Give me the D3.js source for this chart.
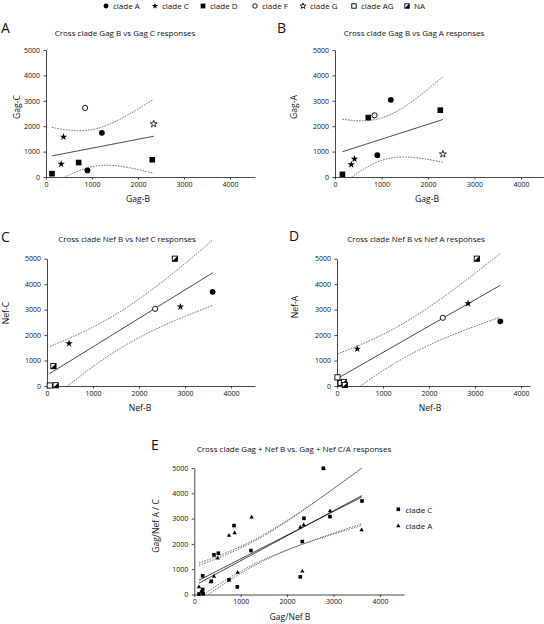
<!DOCTYPE html>
<html><head><meta charset="utf-8">
<script src="https://cdn.jsdelivr.net/npm/d3@7"></script>
<style>
body{margin:0;background:#fff}
svg{display:block}
text{font-family:"Open Sans",sans-serif;fill:#111}
</style>
</head><body>
<svg id="c" width="544" height="624"></svg>
<script>
// ---------- data ----------
const legendKeys = ["A","C","D","F","G","AG","NA"];
const legendLabels = ["clade A","clade C","clade D","clade F","clade G","clade AG","NA"];
const xTicks = [0,1000,2000,3000,4000];
const yTicks = [0,1000,2000,3000,4000,5000];

// Panel A: Gag-B vs Gag-C
const aX = [1215, 900, 380, 330, 130, 710, 2310, 850, 2340];
const aY = [1740, 260, 1580, 510, 130, 570, 680, 2720, 2090];
const aClade = ["A","A","C","C","D","D","D","F","G"];
// Panel B: Gag-B vs Gag-A
const bX = [1200, 910, 420, 350, 160, 715, 2265, 850, 2320];
const bY = [3040, 860, 710, 490, 105, 2340, 2630, 2430, 900];
const bClade = ["A","A","C","C","D","D","D","F","G"];
// Panel C: Nef-B vs Nef-C
const cX = [3600, 2900, 2350, 480, 2780, 140, 60, 190];
const cY = [3700, 3110, 3030, 1670, 5000, 780, 20, 30];
const cClade = ["A","C","F","C","NA","NA","AG","NA"];
// Panel D: Nef-B vs Nef-A
const dX = [3550, 2850, 2300, 440, 3040, 10, 80, 150, 170];
const dY = [2540, 3240, 2680, 1460, 5000, 340, 120, 160, 40];
const dClade = ["A","C","F","C","NA","AG","AG","NA","NA"];
// Panel E: combined Gag + Nef responses
const eCX = [1221, 927, 424, 366, 180, 747, 2284, 855, 2328, 3614, 2924, 2363, 517, 2780, 180, 100, 190];
const eCY = [1737, 303, 1566, 526, 197, 579, 697, 2724, 2092, 3697, 3079, 3013, 1632, 4987, 737, 20, 30];
const eAX = [1236, 934, 424, 350, 160, 747, 2284, 869, 2328, 3606, 2924, 2356, 503, 2790, 100, 150, 170, 190];
const eAY = [3053, 868, 710, 490, 105, 2329, 2658, 2434, 921, 2553, 3303, 2750, 1434, 4980, 300, 120, 160, 40];

const T975 = [NaN,12.706,4.303,3.182,2.776,2.571,2.447,2.365,2.306,2.262,2.228,2.201,2.179,2.160,2.145,2.131,2.120,2.110,2.101,2.093,2.086,2.080,2.074,2.069,2.064,2.060,2.056,2.052,2.048,2.045,2.042];

// ---------- helpers ----------
const svg = d3.select("#c");

function regress(xs, ys){
  const n = xs.length, mx = d3.mean(xs), my = d3.mean(ys);
  let sxx = 0, sxy = 0;
  xs.forEach((x,i)=>{ sxx += (x-mx)*(x-mx); sxy += (x-mx)*(ys[i]-my); });
  const b = sxy/sxx, a = my - b*mx;
  let ss = 0; xs.forEach((x,i)=>{ const r = ys[i]-a-b*x; ss += r*r; });
  const s = Math.sqrt(ss/(n-2)), t = T975[Math.min(n-2,30)];
  return {f:x=>a+b*x, hw:x=>t*s*Math.sqrt(1/n+(x-mx)*(x-mx)/sxx), lo:d3.min(xs), hi:d3.max(xs)};
}

function marker(g, key, cx, cy, s){
  s = s || 1;
  const m = g.append("g").attr("transform",`translate(${cx},${cy})`);
  const sym = (type,size)=>d3.symbol().type(type).size(size)();
  switch(key){
    case "A": m.append("circle").attr("r",2.9*s).attr("fill","#000"); break;
    case "C": m.append("path").attr("d",sym(d3.symbolStar,17*s*s)).attr("fill","#000"); break;
    case "D": m.append("rect").attr("x",-2.8*s).attr("y",-2.8*s).attr("width",5.6*s).attr("height",5.6*s).attr("fill","#000"); break;
    case "F": m.append("circle").attr("r",2.6*s).attr("fill","#fff").attr("stroke","#000").attr("stroke-width",0.9); break;
    case "G": m.append("path").attr("d",sym(d3.symbolStar,15*s*s)).attr("fill","#fff").attr("stroke","#000").attr("stroke-width",0.8); break;
    case "AG": m.append("rect").attr("x",-2.6*s).attr("y",-2.6*s).attr("width",5.2*s).attr("height",5.2*s).attr("fill","#fff").attr("stroke","#000").attr("stroke-width",0.9); break;
    case "NA":
      m.append("rect").attr("x",-2.6*s).attr("y",-2.6*s).attr("width",5.2*s).attr("height",5.2*s).attr("fill","#fff").attr("stroke","#000").attr("stroke-width",0.9);
      m.append("path").attr("d",`M${2.6*s},${-2.6*s}L${2.6*s},${2.6*s}L${-2.6*s},${2.6*s}Z`).attr("fill","#000");
      break;
    case "sq": m.append("rect").attr("x",-1.8).attr("y",-1.8).attr("width",3.6).attr("height",3.6).attr("fill","#000"); break;
    case "tri": m.append("path").attr("d",sym(d3.symbolTriangle,8)).attr("fill","#000"); break;
  }
}

let clipN = 0;
function panel(cfg){
  const g = svg.append("g");
  const xMax = (cfg.xEnd-cfg.x0)/cfg.kx*1000;
  const x = d3.scaleLinear().domain([0,xMax]).range([cfg.x0,cfg.xEnd]);
  const y = d3.scaleLinear().domain([0,5000]).range([cfg.y0,cfg.yTop]);
  const fmt = d3.format("d");

  const xa = g.append("g").attr("transform",`translate(0,${cfg.y0})`)
    .call(d3.axisBottom(x).tickValues(xTicks).tickFormat(fmt).tickSize(2.5).tickSizeOuter(0).tickPadding(2.5));
  const ya = g.append("g").attr("transform",`translate(${cfg.x0},0)`)
    .call(d3.axisLeft(y).tickValues(yTicks).tickFormat(fmt).tickSize(2.5).tickSizeOuter(0).tickPadding(3.5));
  [xa,ya].forEach(a=>{
    a.selectAll("text").attr("font-size",7).attr("font-family",'"Open Sans",sans-serif').attr("fill","#111");
    a.selectAll("path,line").attr("stroke","#333").attr("stroke-width",0.9);
  });

  const id = "clip"+(clipN++);
  g.append("clipPath").attr("id",id).append("rect")
    .attr("x",cfg.x0).attr("y",cfg.yTop-40).attr("width",cfg.xEnd-cfg.x0).attr("height",cfg.y0-cfg.yTop+40);
  const lines = g.append("g").attr("clip-path",`url(#${id})`);

  cfg.series.forEach(sr=>{
    const r = regress(sr.xs, sr.ys);
    const xs = d3.range(0,61).map(i=>r.lo+(r.hi-r.lo)*i/60);
    const ln = d3.line().x(d=>x(d[0])).y(d=>y(d[1]));
    lines.append("path").attr("d",ln(xs.map(v=>[v,r.f(v)])))
      .attr("fill","none").attr("stroke","#111").attr("stroke-width",0.8);
    [1,-1].forEach(sg=>{
      lines.append("path").attr("d",ln(xs.map(v=>[v,r.f(v)+sg*r.hw(v)])))
        .attr("fill","none").attr("stroke","#333").attr("stroke-width",0.7).attr("stroke-dasharray","1.6,1.2");
    });
  });
  // markers: draw in reverse series order so the first series is on top
  cfg.series.slice().reverse().forEach(sr=>{
    sr.xs.forEach((v,i)=>marker(g, sr.keys ? sr.keys[i] : sr.key, x(v), y(sr.ys[i])));
  });

  g.append("text").attr("x",cfg.letter[0]).attr("y",cfg.letter[1]).attr("font-size",14).text(cfg.letterText);
  g.append("text").attr("x",cfg.title[0]).attr("y",cfg.title[1]).attr("text-anchor","middle").attr("font-size",8).text(cfg.titleText);
  g.append("text").attr("transform",`translate(${cfg.ylab[0]},${cfg.ylab[1]}) rotate(-90)`).attr("text-anchor","middle").attr("font-size",8.6).text(cfg.ylabText);
  g.append("text").attr("x",cfg.xlab[0]).attr("y",cfg.xlab[1]).attr("text-anchor","middle").attr("font-size",8.6).text(cfg.xlabText);
}

// ---------- legend ----------
const legX = [106,155,203,255,303,354,407];
legendKeys.forEach((k,i)=>{
  marker(svg, k, legX[i], 6, 0.85);
  svg.append("text").attr("x",legX[i]+7).attr("y",9).attr("font-size",8).text(legendLabels[i]);
});

// ---------- panels ----------
panel({x0:46,y0:177,yTop:50,kx:46,xEnd:255,
  series:[{xs:aX,ys:aY,keys:aClade}],
  letter:[1,33],letterText:"A",title:[125,36],titleText:"Cross clade Gag B vs Gag C responses",
  ylab:[20,107],ylabText:"Gag-C",xlab:[138,202],xlabText:"Gag-B"});
panel({x0:335,y0:177,yTop:50,kx:46.5,xEnd:544,
  series:[{xs:bX,ys:bY,keys:bClade}],
  letter:[277,33],letterText:"B",title:[414,36],titleText:"Cross clade Gag B vs Gag A responses",
  ylab:[297,107],ylabText:"Gag-A",xlab:[427,202],xlabText:"Gag-B"});
panel({x0:47,y0:386,yTop:258.7,kx:46,xEnd:255,
  series:[{xs:cX,ys:cY,keys:cClade}],
  letter:[1,242],letterText:"C",title:[127,242],titleText:"Cross clade Nef B vs Nef C responses",
  ylab:[9,313],ylabText:"Nef-C",xlab:[140,411],xlabText:"Nef-B"});
panel({x0:337,y0:386,yTop:258.7,kx:46,xEnd:530,
  series:[{xs:dX,ys:dY,keys:dClade}],
  letter:[289,241],letterText:"D",title:[416,242],titleText:"Cross clade Nef B vs Nef A responses",
  ylab:[298,307],ylabText:"Nef-A",xlab:[430,411],xlabText:"Nef-B"});
panel({x0:194.3,y0:594.5,yTop:468,kx:46.4,xEnd:404,
  series:[{xs:eCX,ys:eCY,key:"sq"},{xs:eAX,ys:eAY,key:"tri"}],
  letter:[151,450],letterText:"E",title:[294,452],titleText:"Cross clade Gag + Nef B vs. Gag + Nef C/A responses",
  ylab:[159,526],ylabText:"Gag/Nef A / C",xlab:[290,620],xlabText:"Gag/Nef B"});

// E legend
marker(svg,"sq",398.3,509.3);
svg.append("text").attr("x",405.5).attr("y",512.5).attr("font-size",8).text("clade C");
marker(svg,"tri",398.3,526);
svg.append("text").attr("x",405.5).attr("y",529).attr("font-size",8).text("clade A");
</script>
</body></html>
